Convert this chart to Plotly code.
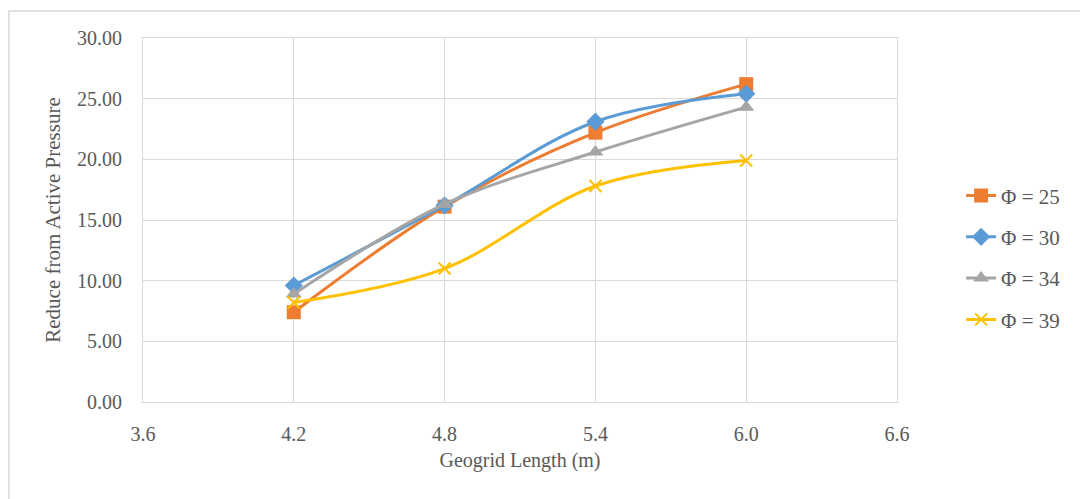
import plotly.graph_objects as go

lengths = [4.2, 4.8, 5.4, 6.0]
phi25 = [7.4, 16.1, 22.2, 26.2]
phi30 = [9.6, 16.2, 23.1, 25.4]
phi34 = [8.9, 16.3, 20.6, 24.3]
phi39 = [8.2, 11.0, 17.8, 19.9]
names = ["Φ = 25", "Φ = 30", "Φ = 34", "Φ = 39"]
xticks = [3.6, 4.2, 4.8, 5.4, 6.0, 6.6]
yticks = [0, 5, 10, 15, 20, 25, 30]

series = [
    (names[0], phi25, "#ED7D31", dict(symbol="square", size=14)),
    (names[1], phi30, "#5B9BD5", dict(symbol="diamond", size=14)),
    (names[2], phi34, "#A5A5A5", dict(symbol="triangle-up", size=14)),
    (names[3], phi39, "#FFC000", dict(symbol="x-thin-open", size=12, line=dict(width=2, color="#FFC000"))),
]

fig = go.Figure()
for i, (nm, vals, col, mk) in enumerate(series):
    mk = dict(mk)
    mk["color"] = col
    fig.add_trace(go.Scatter(
        x=lengths, y=vals, name=nm, mode="lines+markers",
        line=dict(color=col, width=3, shape="spline", smoothing=1.0),
        marker=mk, legendgroup=str(i),
    ))

font = "Liberation Serif"
fig.update_layout(
    width=1080, height=499,
    margin=dict(l=143, r=183, t=38, b=97),
    paper_bgcolor="white", plot_bgcolor="white",
    font=dict(family=font, size=20, color="#595959"),
    showlegend=True,
    legend=dict(x=1.085, y=0.396, xanchor="left", yanchor="middle",
                font=dict(family=font, size=21, color="#595959"),
                tracegroupgap=11, traceorder="grouped"),
    xaxis=dict(range=[3.6, 6.6], tickvals=xticks,
               ticktext=[f"{v:.1f}" for v in xticks],
               showgrid=True, gridcolor="#D9D9D9", gridwidth=1,
               showline=True, linecolor="#D9D9D9", mirror=True, zeroline=False,
               ticks="", ticklabelstandoff=14,
               title=dict(text="Geogrid Length (m)", font=dict(family=font, size=20), standoff=8),
               tickfont=dict(family=font, size=20)),
    yaxis=dict(range=[0, 30], tickvals=yticks,
               ticktext=[f"{v:.2f}" for v in yticks],
               showgrid=True, gridcolor="#D9D9D9", gridwidth=1,
               showline=True, linecolor="#D9D9D9", mirror=True, zeroline=False,
               ticks="", ticklabelstandoff=16,
               title=dict(text="Reduce from Active Pressure", font=dict(family=font, size=21), standoff=10),
               tickfont=dict(family=font, size=20)),
    shapes=[dict(type="rect", xref="paper", yref="paper",
                 x0=(9 - 143) / 754, x1=(1090 - 143) / 754,
                 y0=(402 - 510) / 364, y1=(402 - 11) / 364,
                 line=dict(color="#D9D9D9", width=1.5), layer="below")],
)
fig.write_html("out.html")
